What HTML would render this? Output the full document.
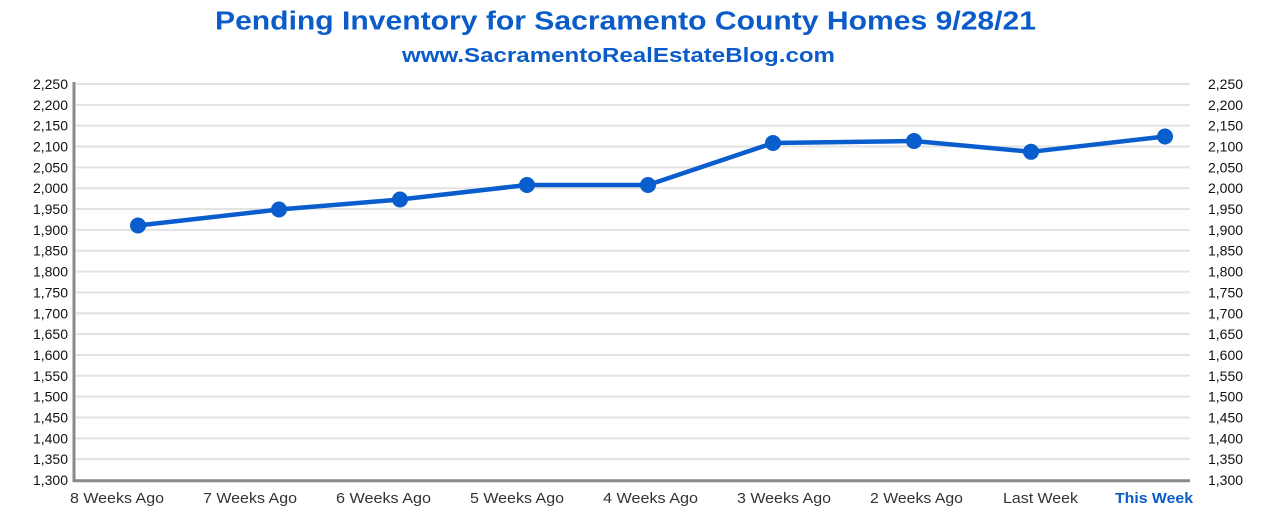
<!DOCTYPE html>
<html><head><meta charset="utf-8"><style>
html,body{margin:0;padding:0;background:#fff;}
svg{display:block;}
</style></head><body>
<svg width="1262" height="532" viewBox="0 0 1262 532" xmlns="http://www.w3.org/2000/svg">
<rect width="1262" height="532" fill="#fff"/>
<text x="625.5" y="29.5" text-anchor="middle" font-family="Liberation Sans, sans-serif" font-weight="bold" font-size="25.5" fill="#0b5cc9" textLength="821" lengthAdjust="spacingAndGlyphs">Pending Inventory for Sacramento County Homes 9/28/21</text>
<text x="618.5" y="62" text-anchor="middle" font-family="Liberation Sans, sans-serif" font-weight="bold" font-size="20.5" fill="#0b5cc9" textLength="433" lengthAdjust="spacingAndGlyphs">www.SacramentoRealEstateBlog.com</text>
<g stroke="#e3e3e3" stroke-width="2">
<line x1="76" x2="1190" y1="84" y2="84"/>
<line x1="76" x2="1190" y1="104.84" y2="104.84"/>
<line x1="76" x2="1190" y1="125.68" y2="125.68"/>
<line x1="76" x2="1190" y1="146.53" y2="146.53"/>
<line x1="76" x2="1190" y1="167.37" y2="167.37"/>
<line x1="76" x2="1190" y1="188.21" y2="188.21"/>
<line x1="76" x2="1190" y1="209.05" y2="209.05"/>
<line x1="76" x2="1190" y1="229.89" y2="229.89"/>
<line x1="76" x2="1190" y1="250.74" y2="250.74"/>
<line x1="76" x2="1190" y1="271.58" y2="271.58"/>
<line x1="76" x2="1190" y1="292.42" y2="292.42"/>
<line x1="76" x2="1190" y1="313.26" y2="313.26"/>
<line x1="76" x2="1190" y1="334.11" y2="334.11"/>
<line x1="76" x2="1190" y1="354.95" y2="354.95"/>
<line x1="76" x2="1190" y1="375.79" y2="375.79"/>
<line x1="76" x2="1190" y1="396.63" y2="396.63"/>
<line x1="76" x2="1190" y1="417.47" y2="417.47"/>
<line x1="76" x2="1190" y1="438.32" y2="438.32"/>
<line x1="76" x2="1190" y1="459.16" y2="459.16"/>
</g>
<line x1="74" x2="74" y1="82" y2="482" stroke="#8a8a8a" stroke-width="3"/>
<line x1="72.5" x2="1190" y1="480.8" y2="480.8" stroke="#8a8a8a" stroke-width="3"/>
<g font-family="Liberation Sans, sans-serif" font-size="14" fill="#111" text-anchor="end">
<text x="68" y="89">2,250</text>
<text x="68" y="109.84">2,200</text>
<text x="68" y="130.68">2,150</text>
<text x="68" y="151.53">2,100</text>
<text x="68" y="172.37">2,050</text>
<text x="68" y="193.21">2,000</text>
<text x="68" y="214.05">1,950</text>
<text x="68" y="234.89">1,900</text>
<text x="68" y="255.74">1,850</text>
<text x="68" y="276.58">1,800</text>
<text x="68" y="297.42">1,750</text>
<text x="68" y="318.26">1,700</text>
<text x="68" y="339.11">1,650</text>
<text x="68" y="359.95">1,600</text>
<text x="68" y="380.79">1,550</text>
<text x="68" y="401.63">1,500</text>
<text x="68" y="422.47">1,450</text>
<text x="68" y="443.32">1,400</text>
<text x="68" y="464.16">1,350</text>
<text x="68" y="485">1,300</text>
</g>
<g font-family="Liberation Sans, sans-serif" font-size="14" fill="#111" text-anchor="start">
<text x="1208" y="89">2,250</text>
<text x="1208" y="109.84">2,200</text>
<text x="1208" y="130.68">2,150</text>
<text x="1208" y="151.53">2,100</text>
<text x="1208" y="172.37">2,050</text>
<text x="1208" y="193.21">2,000</text>
<text x="1208" y="214.05">1,950</text>
<text x="1208" y="234.89">1,900</text>
<text x="1208" y="255.74">1,850</text>
<text x="1208" y="276.58">1,800</text>
<text x="1208" y="297.42">1,750</text>
<text x="1208" y="318.26">1,700</text>
<text x="1208" y="339.11">1,650</text>
<text x="1208" y="359.95">1,600</text>
<text x="1208" y="380.79">1,550</text>
<text x="1208" y="401.63">1,500</text>
<text x="1208" y="422.47">1,450</text>
<text x="1208" y="443.32">1,400</text>
<text x="1208" y="464.16">1,350</text>
<text x="1208" y="485">1,300</text>
</g>
<g font-family="Liberation Sans, sans-serif" font-size="15" fill="#333">
<text x="70" y="503" textLength="94" lengthAdjust="spacingAndGlyphs">8 Weeks Ago</text>
<text x="203" y="503" textLength="94" lengthAdjust="spacingAndGlyphs">7 Weeks Ago</text>
<text x="336" y="503" textLength="95" lengthAdjust="spacingAndGlyphs">6 Weeks Ago</text>
<text x="470" y="503" textLength="94" lengthAdjust="spacingAndGlyphs">5 Weeks Ago</text>
<text x="603" y="503" textLength="95" lengthAdjust="spacingAndGlyphs">4 Weeks Ago</text>
<text x="737" y="503" textLength="94" lengthAdjust="spacingAndGlyphs">3 Weeks Ago</text>
<text x="870" y="503" textLength="93" lengthAdjust="spacingAndGlyphs">2 Weeks Ago</text>
<text x="1003" y="503" textLength="75" lengthAdjust="spacingAndGlyphs">Last Week</text>
<text x="1115" y="503" textLength="78" lengthAdjust="spacingAndGlyphs" font-weight="bold" fill="#0b5cc9">This Week</text>
</g>
<polyline fill="none" stroke="#0a5dcc" stroke-width="4.5" stroke-linejoin="round" points="138,225.5 279,209.5 400,199.5 527,185 648,185 773,143 914,141 1031,151.8 1165,136.5"/>
<g fill="#0a5dcc">
<circle cx="138" cy="225.5" r="8"/>
<circle cx="279" cy="209.5" r="8"/>
<circle cx="400" cy="199.5" r="8"/>
<circle cx="527" cy="185" r="8"/>
<circle cx="648" cy="185" r="8"/>
<circle cx="773" cy="143" r="8"/>
<circle cx="914" cy="141" r="8"/>
<circle cx="1031" cy="151.8" r="8"/>
<circle cx="1165" cy="136.5" r="8"/>
</g>
</svg>
</body></html>
